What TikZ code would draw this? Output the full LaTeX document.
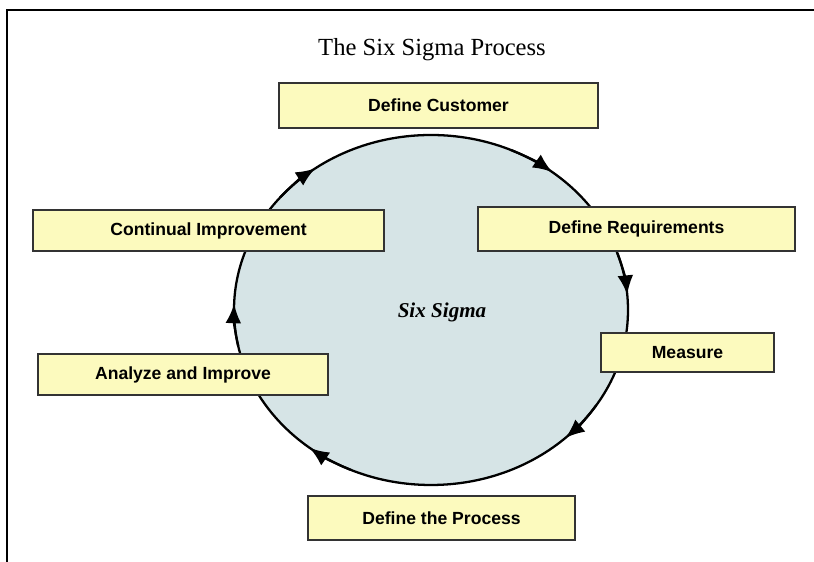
\documentclass[tikz,border=0pt]{standalone}
\usepackage{fontspec}
\setmainfont{Liberation Serif}
\setsansfont{Liberation Sans}
\usepackage{xcolor}
\usepackage{tikz}
\usetikzlibrary{arrows.meta}
\definecolor{stepyellow}{RGB}{252,250,190}
\definecolor{sigmablue}{RGB}{214,228,230}
\tikzset{
    outerframe/.style={line width=1.1pt, draw=black},
    phase/.style={draw=black!80, line width=1pt, fill=stepyellow, inner sep=0pt, font=\sffamily\bfseries\fontsize{10}{12}\selectfont},
    sigmaring/.style={line width=1.3pt, draw=black, fill=sigmablue},
    cyclearrow/.style={line width=1.3pt, -{Latex[length=11pt, width=9pt]}}
}

\begin{document}
\begin{tikzpicture}
    \useasboundingbox (0,0) rectangle (16.28,11.24);
    \draw[outerframe] (0.14,0) -- (0.14,11.04) -- (16.28,11.04);
    \node[font=\fontsize{14}{16}\selectfont] (title) at (8.64,10.24) {The Six Sigma Process};

    \coordinate (hub) at (8.62,5.04);
    \draw[sigmaring] (hub) ellipse [x radius=3.94, y radius=3.5];
    \foreach \a [evaluate=\a as \b using \a+14] in {126,52,5,-47,-128,178}
        \draw[cyclearrow] (hub) ++(\b:3.94 and 3.5) arc[start angle=\b, end angle=\a, x radius=3.94, y radius=3.5];
    \node[font=\bfseries\itshape\fontsize{12}{14}\selectfont] (sigma) at (8.84,5.0) {Six Sigma};

    \node[phase, minimum width=6.38cm, minimum height=0.9cm] (customer) at (8.77,9.13) {Define Customer};
    \node[phase, minimum width=7.02cm, minimum height=0.82cm] (improvement) at (4.17,6.63) {Continual Improvement};
    \node[phase, minimum width=6.34cm, minimum height=0.88cm] (requirements) at (12.73,6.66) {Define Requirements};
    \node[phase, minimum width=3.46cm, minimum height=0.78cm] (measure) at (13.75,4.19) {Measure};
    \node[phase, minimum width=5.8cm, minimum height=0.82cm] (analyze) at (3.66,3.75) {Analyze and Improve};
    \node[phase, minimum width=5.34cm, minimum height=0.88cm] (process) at (8.83,0.88) {Define the Process};
\end{tikzpicture}
\end{document}
